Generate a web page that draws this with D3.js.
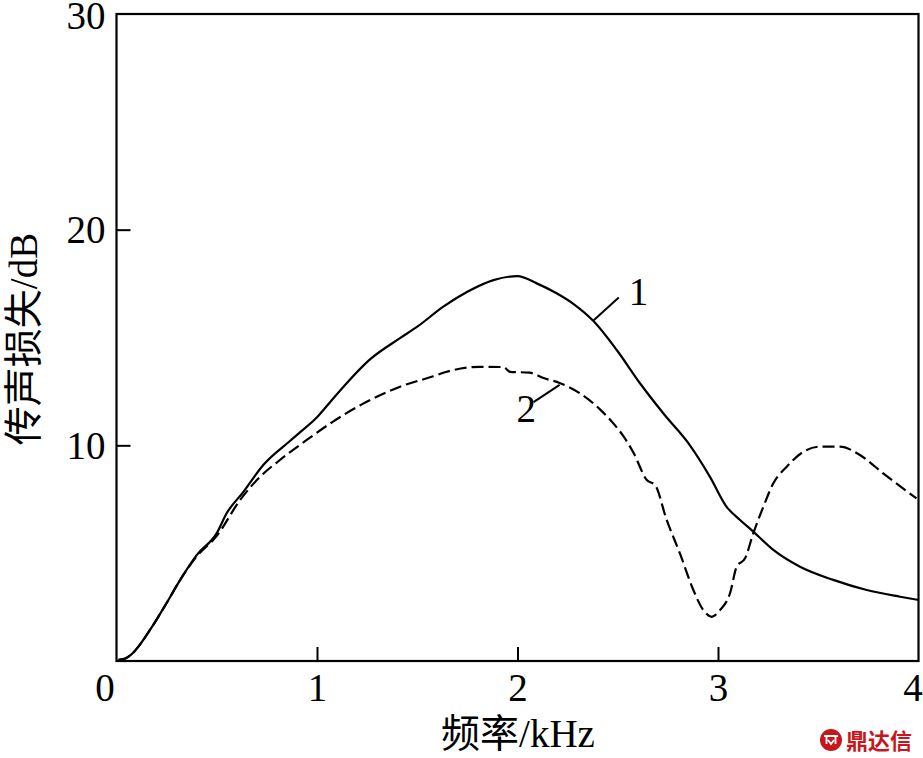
<!DOCTYPE html>
<html><head><meta charset="utf-8">
<script src="https://cdn.jsdelivr.net/npm/d3@7/dist/d3.min.js"></script>
<style>body{margin:0;background:#fff}</style>
</head><body>
<svg id="c" width="923" height="758"></svg>
<script>
const xTicks = [0, 1, 2, 3, 4];
const yTicks = [10, 20, 30];
const freq1 = [0.01,0.04,0.076,0.12,0.167,0.25,0.32,0.40,0.50,0.55,0.632,0.732,0.865,0.915,1.0,1.065,1.14,1.26,1.414,1.50,1.63,1.75,1.88,2.0,2.096,2.195,2.28,2.38,2.495,2.61,2.73,2.86,2.96,3.043,3.11,3.176,3.276,3.409,3.575,3.742,3.908,4.0];
const loss1 = [0.05,0.1,0.32,0.8,1.44,2.69,3.8,4.91,5.93,6.86,7.83,9.09,10.2,10.6,11.3,12.0,12.8,13.95,14.97,15.5,16.43,17.12,17.66,17.85,17.51,17.05,16.55,15.75,14.42,12.89,11.45,10.0,8.54,7.15,6.54,6.0,5.15,4.37,3.76,3.29,2.98,2.83];
const freq2 = [0.01,0.04,0.076,0.12,0.167,0.25,0.32,0.40,0.50,0.616,0.716,0.815,0.949,1.08,1.248,1.414,1.58,1.647,1.813,1.93,1.963,2.06,2.13,2.21,2.31,2.41,2.477,2.53,2.58,2.645,2.686,2.744,2.81,2.877,2.927,2.969,3.01,3.06,3.093,3.135,3.176,3.226,3.276,3.343,3.426,3.509,3.608,3.708,3.824,3.99];
const loss2 = [0.05,0.1,0.32,0.8,1.44,2.69,3.8,4.85,5.8,7.46,8.54,9.32,10.25,11.1,12.02,12.72,13.2,13.41,13.64,13.63,13.41,13.37,13.12,12.89,12.42,11.68,11.03,10.4,9.63,8.39,8.16,6.54,4.99,3.29,2.36,2.05,2.36,3.14,4.37,4.76,5.92,7.15,8.24,9.01,9.7,9.94,9.94,9.55,8.7,7.54];
const series = [
  {name: "1", f: freq1, v: loss1, dash: null},
  {name: "2", f: freq2, v: loss2, dash: "12,5"}
];

const svg = d3.select("#c");
const L = 116.5, R = 918.5, T = 14, B = 661;
const x = d3.scaleLinear().domain([0, 4]).range([L, R]);
const y = d3.scaleLinear().domain([0, 30]).range([B, T]);
const serif = "'Liberation Serif','Times New Roman',serif";
const cjk = "'Noto Sans CJK SC','Liberation Serif',serif";

// curves
const line = d3.line().x(d => x(d[0])).y(d => y(d[1])).curve(d3.curveMonotoneX);
series.forEach(s => {
  const pts = s.f.map((f, i) => [f, s.v[i]]);
  svg.append("path").attr("d", line(pts)).attr("fill", "none")
    .attr("stroke", "#000").attr("stroke-width", 2.2)
    .attr("stroke-dasharray", s.dash);
});

// frame
svg.append("rect").attr("x", L).attr("y", T).attr("width", R - L).attr("height", B - T)
  .attr("fill", "none").attr("stroke", "#000").attr("stroke-width", 2.2);

// x axis
const xa = svg.append("g").attr("transform", `translate(0,${B})`)
  .call(d3.axisBottom(x).tickValues(xTicks).tickSize(-14).tickPadding(12).tickFormat(d3.format("d")));
xa.select(".domain").remove();
xa.selectAll(".tick line").attr("stroke-width", 2).filter(d => d === 0 || d === 4).remove();
xa.selectAll(".tick text").attr("font-family", serif).attr("font-size", 39).attr("fill", "#000")
  .attr("dx", d => d === 0 ? -12 : (d === 4 ? -6 : 0));

// y axis
const ya = svg.append("g").attr("transform", `translate(${L},0)`)
  .call(d3.axisLeft(y).tickValues(yTicks).tickSize(-14).tickPadding(11).tickFormat(d3.format("d")));
ya.select(".domain").remove();
ya.selectAll(".tick line").attr("stroke-width", 2).filter(d => d === 30).remove();
ya.selectAll(".tick text").attr("font-family", serif).attr("font-size", 39).attr("fill", "#000")
  .attr("dy", d => d === 30 ? "0.38em" : "0.34em");

// axis titles
const xt = svg.append("text").attr("x", 518).attr("y", 747).attr("text-anchor", "middle")
  .attr("font-size", 39).attr("fill", "#000");
xt.append("tspan").attr("font-family", cjk).text("频率");
xt.append("tspan").attr("font-family", serif).text("/kHz");

const yt = svg.append("text").attr("transform", "translate(37,339) rotate(-90)")
  .attr("text-anchor", "middle").attr("font-size", 39).attr("fill", "#000");
yt.append("tspan").attr("font-family", cjk).text("传声损失");
yt.append("tspan").attr("font-family", serif).text("/dB");

// curve labels with leader lines
const labels = [
  {t: "1", lx1: 2.38, ly1: 15.8, lx2: 2.505, ly2: 16.85, tx: 2.555, ty: 16.5},
  {t: "2", lx1: 2.08, ly1: 12.0, lx2: 2.21, ly2: 12.8, tx: 1.995, ty: 11.1}
];
labels.forEach(l => {
  svg.append("line").attr("x1", x(l.lx1)).attr("y1", y(l.ly1)).attr("x2", x(l.lx2)).attr("y2", y(l.ly2))
    .attr("stroke", "#000").attr("stroke-width", 2);
  svg.append("text").attr("x", x(l.tx)).attr("y", y(l.ty)).attr("font-family", serif)
    .attr("font-size", 39).attr("fill", "#000").text(l.t);
});

// watermark
const wm = svg.append("g").attr("transform", "translate(831,740)");
wm.append("circle").attr("r", 11).attr("fill", "#c8161d");
wm.append("path").attr("d", "M-7,-4 L7,-4 M-4.5,-4 L-4.5,4 M4.5,-4 L4.5,4 M-3,0 L0,4 L3,0").attr("stroke", "#fff")
  .attr("stroke-width", 1.8).attr("fill", "none");
svg.append("text").attr("x", 846).attr("y", 749).attr("font-family", "'Noto Sans CJK SC',sans-serif")
  .attr("font-weight", "bold").attr("font-size", 22).attr("fill", "#c8161d").text("鼎达信");
</script>
</body></html>
